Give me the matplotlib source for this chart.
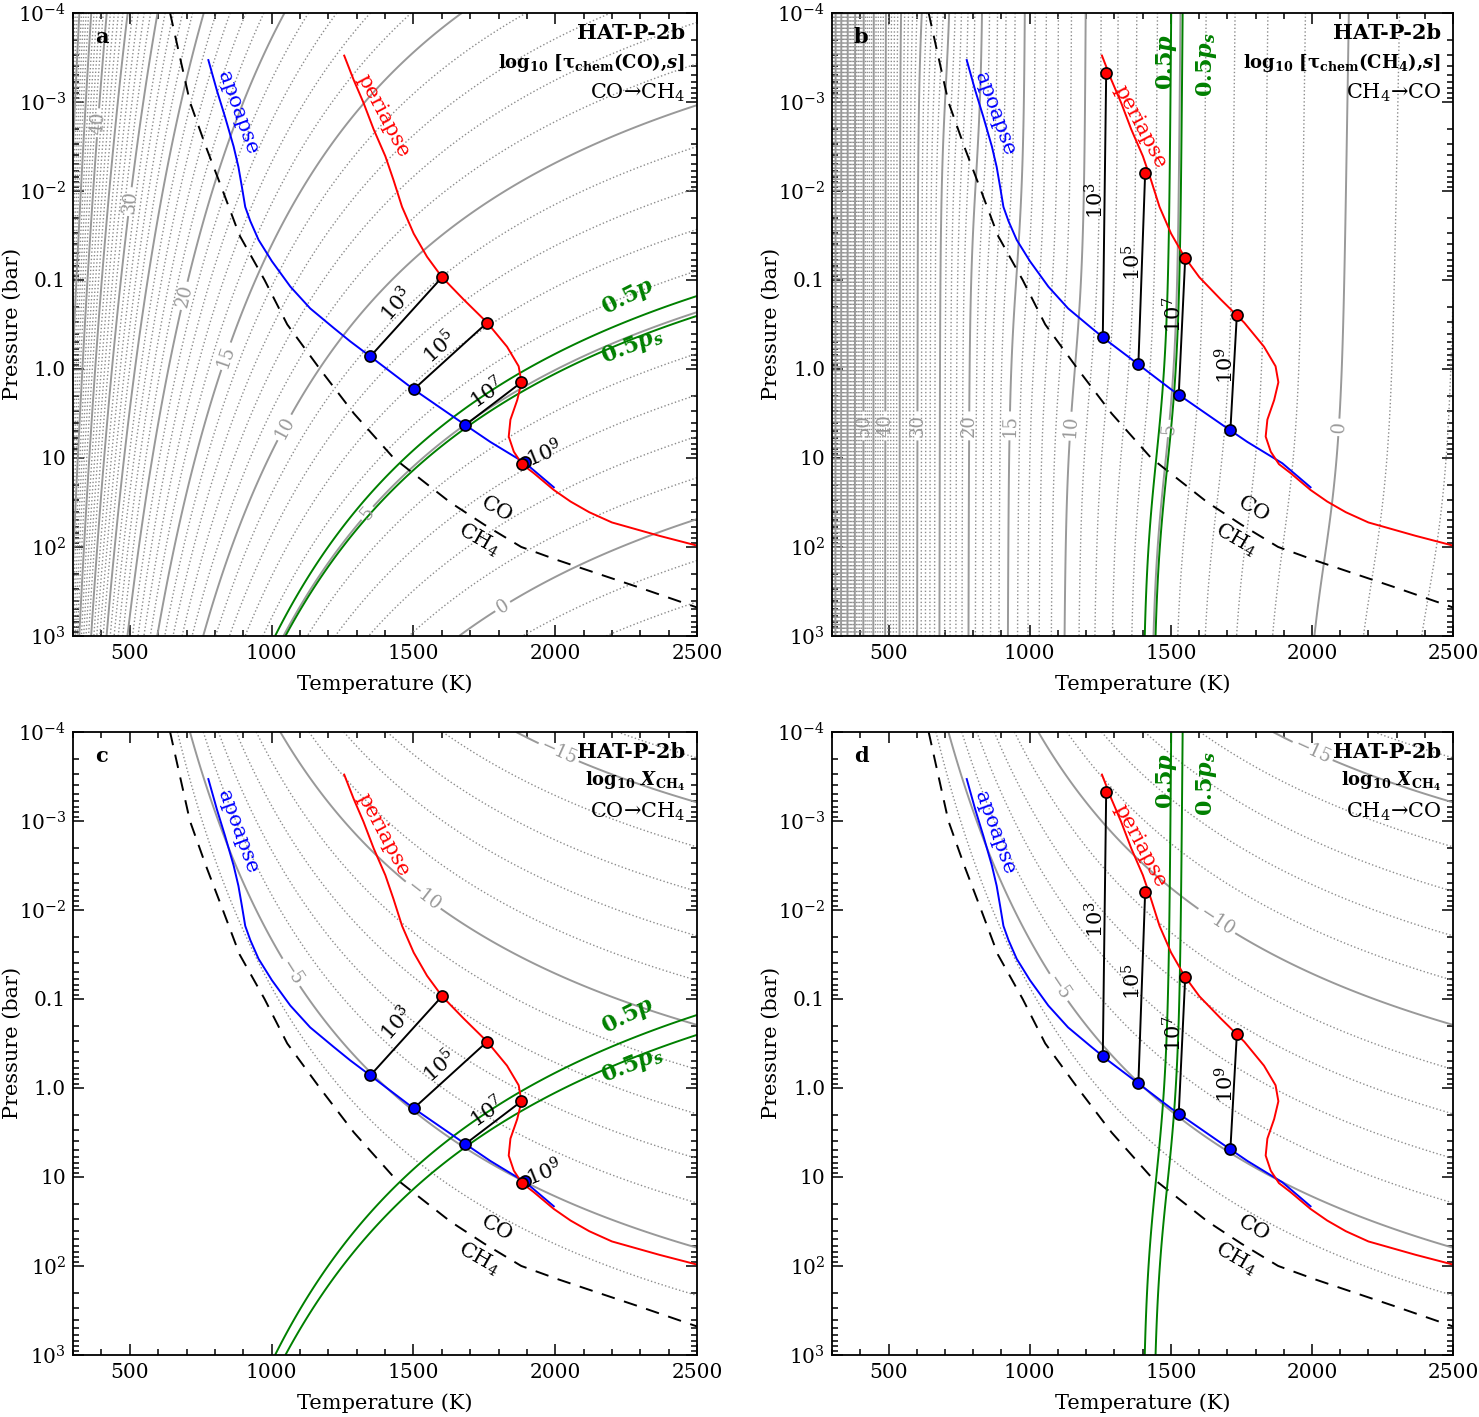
import numpy as np
import matplotlib
matplotlib.use("Agg")
import matplotlib.pyplot as plt
from matplotlib.ticker import FixedLocator, FixedFormatter, MultipleLocator, LogLocator, NullFormatter

plt.rcParams['font.family'] = ['DejaVu Serif']
plt.rcParams['mathtext.fontset'] = 'dejavuserif'

# ---------------- values ----------------
# CO/CH4 equal-abundance curve (dashed)
BOUND_T = [642, 677, 712, 768, 828, 887, 975, 1055, 1170, 1290, 1430, 1630, 1750, 1880,
           2010, 2150, 2300, 2500]
BOUND_LOGP = [-4, -3.5, -3, -2.5, -2, -1.5, -1, -0.5, 0, 0.5, 1, 1.5, 1.75, 2,
              2.15, 2.3, 2.46, 2.68]

# apoapse (blue) and periapse (red) profiles
APO_T = [777, 807, 836, 866, 883, 895, 907, 925, 954, 1001, 1066, 1136, 1219, 1277,
         1348, 1501, 1683, 1771, 1895, 1995]
APO_LOGP = [-3.47, -3.13, -2.83, -2.50, -2.27, -2.05, -1.82, -1.66, -1.45, -1.21, -0.925,
            -0.68, -0.46, -0.31, -0.14, 0.23, 0.63, 0.82, 1.06, 1.33]
PERI_T = [1256, 1289, 1324, 1360, 1401, 1430, 1460, 1501, 1548, 1601, 1677, 1760, 1830,
          1871, 1881, 1866, 1842, 1836, 1854, 1883, 1924, 1995, 2054, 2120, 2200, 2367, 2500]
PERI_LOGP = [-3.52, -3.25, -2.99, -2.69, -2.39, -2.12, -1.82, -1.52, -1.26, -1.03, -0.78,
             -0.52, -0.25, -0.03, 0.15, 0.35, 0.57, 0.76, 0.93, 1.07, 1.17, 1.36, 1.49,
             1.61, 1.725, 1.875, 1.985]

# quench points for 10^3 ... 10^9 (panels a/c: CO->CH4, panels b/d: CH4->CO)
QUENCH_LABELS = ["10$^3$", "10$^5$", "10$^7$", "10$^9$"]
CO_APO_T = [1348, 1501, 1683, 1895]
CO_APO_LOGP = [-0.14, 0.23, 0.63, 1.05]
CO_PERI_T = [1601, 1760, 1881, 1883]
CO_PERI_LOGP = [-1.03, -0.52, 0.15, 1.07]
CH4_APO_T = [1259, 1385, 1528, 1711]
CH4_APO_LOGP = [-0.36, -0.05, 0.29, 0.685]
CH4_PERI_T = [1271, 1409, 1551, 1734]
CH4_PERI_LOGP = [-3.32, -2.20, -1.25, -0.61]

# contour fields, fitted to the labelled contours (x = 1e4/T)
BOUND_FIT = (4.99, -0.577)           # log p of CO=CH4 line: b0 + b1*x
TAU_CO = (1.397, -2.15, -1.96)       # log tau(CO)  = a*x + n*log p + c
TAU_CH4 = (2.74, -12.86, 0.03, 0.15, 1.5)   # a, c, n, d, width
XCH4_TOT = -3.22                     # log X_CH4 where CH4 dominates
HALF_P = 5.39                        # log10(0.5 P_orb / s)
HALF_PS = 4.91                       # log10(0.5 P_s / s)

P_TICKS = [1e-4, 1e-3, 1e-2, 1e-1, 1, 10, 1e2, 1e3]
P_LABELS = ["10$^{-4}$", "10$^{-3}$", "10$^{-2}$", "0.1", "1.0", "10", "10$^{2}$", "10$^{3}$"]


# ---------------- fields ----------------
T_grid = np.linspace(300, 2500, 900)
lp_grid = np.linspace(-4, 3, 500)
TT, LP = np.meshgrid(T_grid, lp_grid)
XX = 1e4 / TT
PP = 10 ** LP

lp_bound = BOUND_FIT[0] + BOUND_FIT[1] * XX
log_r = 2 * (LP - lp_bound)

a, n, c = TAU_CO
field_co = a * XX + n * LP + c

a, c, n, d, w = TAU_CH4
S = 0.5 * (1 + np.tanh((LP - lp_bound) / w))
field_ch4 = a * XX + c - n * (LP + 4) - d * XX * S

field_x = XCH4_TOT + log_r - np.logaddexp(0, log_r * np.log(10)) / np.log(10)


def setup_axes(ax):
    ax.set_xlim(300, 2500)
    ax.set_yscale('log')
    ax.set_ylim(1e3, 1e-4)
    ax.xaxis.set_major_locator(MultipleLocator(500))
    ax.xaxis.set_minor_locator(MultipleLocator(100))
    ax.yaxis.set_major_locator(FixedLocator(P_TICKS))
    ax.yaxis.set_major_formatter(FixedFormatter(P_LABELS))
    ax.yaxis.set_minor_locator(LogLocator(base=10, subs=np.arange(2, 10)))
    ax.yaxis.set_minor_formatter(NullFormatter())
    ax.tick_params(which='both', direction='in', top=True, right=True, width=1.1)
    ax.tick_params(which='major', length=8, labelsize=14.5, pad=6)
    ax.tick_params(which='major', axis='y', pad=5)
    ax.tick_params(which='minor', length=4)
    for s in ax.spines.values():
        s.set_linewidth(1.3)
    ax.set_xlabel("Temperature (K)", fontsize=15)
    ax.set_ylabel("Pressure (bar)", fontsize=15)
    ax.yaxis.set_label_coords(-0.082, 0.5)
    ax.xaxis.set_label_coords(0.5, -0.062)


def draw_field(ax, Z, lo, hi, labels, pos, fmt):
    dotted = [v for v in range(lo, hi + 1) if v % 5 != 0]
    solid = [v for v in range(lo, hi + 1) if v % 5 == 0 and v not in labels]
    ax.contour(TT, PP, Z, levels=dotted, colors='0.55', linewidths=1.0, linestyles=':')
    ax.contour(TT, PP, Z, levels=solid, colors='0.6', linewidths=1.4, linestyles='-')
    cs = ax.contour(TT, PP, Z, levels=sorted(labels), colors='0.6', linewidths=1.4, linestyles='-')
    ax.clabel(cs, manual=[(t, 10 ** lp) for t, lp in pos],
              fmt=fmt, fontsize=13, inline_spacing=3)


def draw_common(ax, green_field, letter, title, reaction):
    ax.plot(BOUND_T, 10 ** np.array(BOUND_LOGP), color='k', lw=1.4, ls=(0, (7, 5)))
    ax.contour(TT, PP, green_field, levels=[HALF_PS, HALF_P], colors='green', linewidths=1.4)
    ax.plot(APO_T, 10 ** np.array(APO_LOGP), color='blue', lw=1.4)
    ax.plot(PERI_T, 10 ** np.array(PERI_LOGP), color='red', lw=1.4)
    ax.text(1795, 10 ** 1.58, "CO", rotation=-30, ha='center', va='center', fontsize=15)
    ax.text(1730, 10 ** 1.92, "CH$_4$", rotation=-30, ha='center', va='center', fontsize=15)
    ax.text(0.035, 0.978, letter, transform=ax.transAxes, fontsize=15, fontweight='bold',
            va='top', ha='left')
    ax.text(0.981, 0.968, "HAT-P-2b", transform=ax.transAxes, fontsize=15,
            fontweight='bold', ha='right', va='center')
    ax.text(0.981, 0.921, title, transform=ax.transAxes, fontsize=13,
            fontweight='bold', ha='right', va='center')
    ax.text(0.981, 0.872, reaction, transform=ax.transAxes, fontsize=15,
            ha='right', va='center')


def draw_quench(ax, apo_t, apo_lp, peri_t, peri_lp, label_pos, label_rot):
    for i in range(len(apo_t)):
        ax.plot([apo_t[i], peri_t[i]], [10 ** apo_lp[i], 10 ** peri_lp[i]], color='k', lw=1.4)
    ax.plot(apo_t, 10 ** np.array(apo_lp), 'o', color='blue', mec='k', mew=1.2, ms=8, zorder=5)
    ax.plot(peri_t, 10 ** np.array(peri_lp), 'o', color='red', mec='k', mew=1.2, ms=8, zorder=6)
    for lab, (t, lp), rot in zip(QUENCH_LABELS, label_pos, label_rot):
        ax.text(t, 10 ** lp, lab, rotation=rot, ha='center', va='center', fontsize=15)


fig = plt.figure(figsize=(14.79, 14.17), dpi=100)
ax_a = fig.add_axes([0.0494, 0.5512, 0.4219, 0.4397])
ax_b = fig.add_axes([0.5626, 0.5512, 0.4199, 0.4397])
ax_c = fig.add_axes([0.0494, 0.0438, 0.4219, 0.4397])
ax_d = fig.add_axes([0.5626, 0.0438, 0.4199, 0.4397])
for ax in (ax_a, ax_b, ax_c, ax_d):
    setup_axes(ax)

minus = {-5: "\u22125", -10: "\u221210", -15: "\u221215"}
co_label_pos = [(1442, -0.72), (1595, -0.25), (1760, 0.27), (1962, 0.95)]
ch4_label_pos = [(1233, -1.89), (1364, -1.19), (1512, -0.61), (1695, -0.04)]

# a: tau(CO)
draw_field(ax_a, field_co, -5, 60, [40, 30, 20, 15, 10, 5, 0],
           [(413, -2.76), (525, -1.87), (707, -0.81), (842, -0.14), (1041, 0.65),
            (1330, 1.60), (1807, 2.63)], '%d')
draw_common(ax_a, field_co, 'a', r"log$_{\mathbf{10}}$ [τ$_{\mathbf{chem}}$(CO),$\mathbfit{s}$]",
            "CO→CH$_4$")
draw_quench(ax_a, CO_APO_T, CO_APO_LOGP, CO_PERI_T, CO_PERI_LOGP, co_label_pos, [48, 42, 35, 22])

# b: tau(CH4)
draw_field(ax_b, field_ch4, -5, 80, [50, 40, 30, 20, 15, 10, 5, 0],
           [(411, 0.64), (493, 0.64), (606, 0.64), (791, 0.64), (933, 0.64), (1128, 0.64),
            (1528, 0.68), (2163, 0.67)], '%d')
draw_common(ax_b, field_ch4, 'b', r"log$_{\mathbf{10}}$ [τ$_{\mathbf{chem}}$(CH$_{\mathbf{4}}$),$\mathbfit{s}$]",
            "CH$_4$→CO")
draw_quench(ax_b, CH4_APO_T, CH4_APO_LOGP, CH4_PERI_T, CH4_PERI_LOGP, ch4_label_pos, [90, 90, 90, 90])

# c, d: X_CH4
draw_field(ax_c, field_x, -30, -4, [-5, -10, -15],
           [(1085, -1.33), (1545, -2.21), (2008, -3.74)], minus)
draw_field(ax_d, field_x, -30, -4, [-5, -10, -15],
           [(1103, -1.13), (1670, -1.91), (1996, -3.74)], minus)
draw_common(ax_c, field_co, 'c', r"log$_{\mathbf{10}}$ $\mathbfit{X}_{\mathbf{CH_4}}$", "CO→CH$_4$")
draw_quench(ax_c, CO_APO_T, CO_APO_LOGP, CO_PERI_T, CO_PERI_LOGP, co_label_pos, [48, 42, 35, 22])
draw_common(ax_d, field_ch4, 'd', r"log$_{\mathbf{10}}$ $\mathbfit{X}_{\mathbf{CH_4}}$", "CH$_4$→CO")
draw_quench(ax_d, CH4_APO_T, CH4_APO_LOGP, CH4_PERI_T, CH4_PERI_LOGP, ch4_label_pos, [90, 90, 90, 90])

# profile names and green labels
for ax in (ax_a, ax_c):
    ax.text(882, 10 ** -2.88, "apoapse", color='blue', rotation=-70, ha='center', va='center', fontsize=15)
    ax.text(1395, 10 ** -2.84, "periapse", color='red', rotation=-62, ha='center', va='center', fontsize=15)
    ax.text(2258, 10 ** -0.81, r"$\mathbf{0.5}\mathbfit{p}$", color='green', rotation=27,
            ha='center', va='center', fontsize=16)
    ax.text(2272, 10 ** -0.26, r"$\mathbf{0.5}\mathbfit{p}_{\mathbfit{s}}$", color='green', rotation=22,
            ha='center', va='center', fontsize=16)
for ax in (ax_b, ax_d):
    ax.text(878, 10 ** -2.87, "apoapse", color='blue', rotation=-70, ha='center', va='center', fontsize=15)
    ax.text(1392, 10 ** -2.72, "periapse", color='red', rotation=-62, ha='center', va='center', fontsize=15)
    ax.text(1484, 10 ** -3.45, r"$\mathbf{0.5}\mathbfit{p}$", color='green', rotation=90,
            ha='center', va='center', fontsize=16)
    ax.text(1625, 10 ** -3.42, r"$\mathbf{0.5}\mathbfit{p}_{\mathbfit{s}}$", color='green', rotation=90,
            ha='center', va='center', fontsize=16)

fig.savefig("out.png", dpi=100)
